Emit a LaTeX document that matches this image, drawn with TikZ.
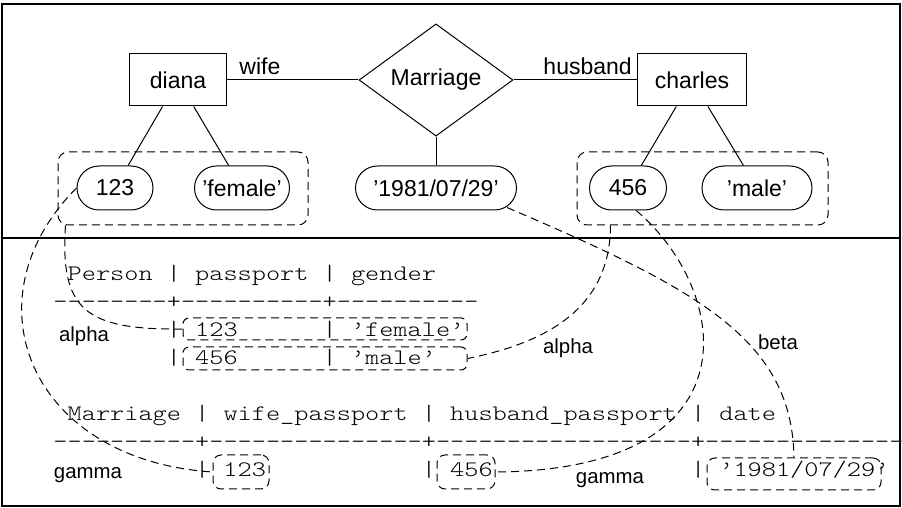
\documentclass[tikz,border=0pt]{standalone}
\usepackage{fontspec}
\setmainfont{Liberation Sans}
\setmonofont{lmmonolt10-regular.otf}[FakeStretch=1.22]
\usetikzlibrary{shapes.geometric}

\begin{document}
\begin{tikzpicture}[x=0.5pt,y=-0.5pt,line width=0.5pt]

        \useasboundingbox (0,0) rectangle (902,508);
        \draw[line width=1pt] (2,4) rectangle (900,506);
        \draw[line width=1pt] (2,238) -- (900,238);

        % entities and relationship
        \begin{scope}[every node/.style={draw,font=\fontsize{11.5}{14}\selectfont}]
          \node[minimum width=48.5pt,minimum height=26pt] (diana) at (178,80) {diana};
          \node[diamond,minimum width=77pt,minimum height=51pt,inner sep=0pt] (marriage) at (436,80) {Marriage};
          \node[minimum width=54.5pt,minimum height=26pt] (charles) at (692,80) {charles};
        \end{scope}

        % attribute values
        \begin{scope}[every node/.style={draw,rounded corners=11pt,minimum height=22pt,inner xsep=2pt,font=\fontsize{11.5}{14}\selectfont}]
          \node[minimum width=38pt]   (v123)    at (115,188) {123};
          \node[minimum width=47.5pt] (vfemale) at (242,188) {'female'};
          \node[minimum width=80.5pt] (vdate)   at (436,188) {'1981/07/29'};
          \node[minimum width=38.5pt] (v456)    at (628,188) {456};
          \node[minimum width=55pt]   (vmale)   at (757,188) {'male'};
        \end{scope}

        \begin{scope}[every node/.style={font=\fontsize{11.5}{14}\selectfont,inner sep=2.5pt}]
          \begin{scope}[every edge/.style={draw}]
            \path (diana)    edge node[above,pos=.25] {wife} (marriage);
            \path (marriage) edge node[above,pos=.6] {husband} (charles);
            \path (diana)    edge (v123);
            \path (diana)    edge (vfemale);
            \path (marriage) edge (vdate);
            \path (charles)  edge (v456);
            \path (charles)  edge (vmale);
          \end{scope}
        \end{scope}

        % tables
        \begin{scope}[every node/.style={anchor=base west,inner sep=0pt,font=\ttfamily\fontsize{11.06}{14}\selectfont}]
          \node (hdrA) at (53,281) {~Person~|~passport~|~gender};
          \node (sepA) at (53,309) {--------+----------+----------};
          \node (rowtA) at (53,337) {~~~~~~~~|~123~~~~~~|~’female’};
          \node (rowtB) at (53,365) {~~~~~~~~|~456~~~~~~|~’male’};
          \node (hdrB) at (53,421) {~Marriage~|~wife\_passport~|~husband\_passport~|~date};
          \node (sepB) at (53,449) {----------+---------------+------------------+--------------};
          \node (rowtC) at (53,477) {~~~~~~~~~~|~123~~~~~~~~~~~|~456~~~~~~~~~~~~~~|~’1981/07/29’};
        \end{scope}

        % dashed groups
        \begin{scope}[every node/.style={draw,dash pattern=on 4pt off 2.5pt}]
          \node[rounded corners=5pt,minimum width=125pt,minimum height=36.5pt]   (grpL) at (183,188.5) {};
          \node[rounded corners=5pt,minimum width=125.5pt,minimum height=36.5pt] (grpR) at (702.5,188.5) {};
          \node[rounded corners=3pt,minimum width=142pt,minimum height=11pt]     (rowA) at (325,329) {};
          \node[rounded corners=3pt,minimum width=142pt,minimum height=11.5pt]   (rowB) at (325,358.5) {};
          \node[rounded corners=4pt,minimum width=28pt,minimum height=17pt]      (b123) at (241,472) {};
          \node[rounded corners=4pt,minimum width=29pt,minimum height=17pt]      (b456) at (466,472) {};
          \node[rounded corners=4pt,minimum width=87pt,minimum height=16pt]      (bdate) at (794,474) {};
        \end{scope}

        % mappings
        \begin{scope}[dash pattern=on 4pt off 2.5pt]
          \draw ([xshift=4pt]grpL.south west) .. controls (60,310) and (85,330) .. (rowA.west);
          \draw (v123.west) .. controls (-35,300) and (30,460) .. (b123.west);
          \draw ([xshift=17pt]grpR.south west) .. controls (610,300) and (560,340) .. (rowB.east);
          \draw (v456.-70) .. controls (730,290) and (760,470) .. (b456.east);
          \draw ([xshift=-5pt,yshift=1.5pt]vdate.south east) .. controls (700,290) and (792,340) .. (bdate.north);
        \end{scope}

        \begin{scope}[every node/.style={font=\fontsize{10.2}{12}\selectfont}]
          \node (alphaA) at (84,336)  {alpha};
          \node (gammaA) at (88,475)  {gamma};
          \node (alphaB) at (568,348) {alpha};
          \node (betaC)  at (778,342) {beta};
          \node (gammaB) at (610,480) {gamma};
        \end{scope}

      \end{tikzpicture}
\end{document}
